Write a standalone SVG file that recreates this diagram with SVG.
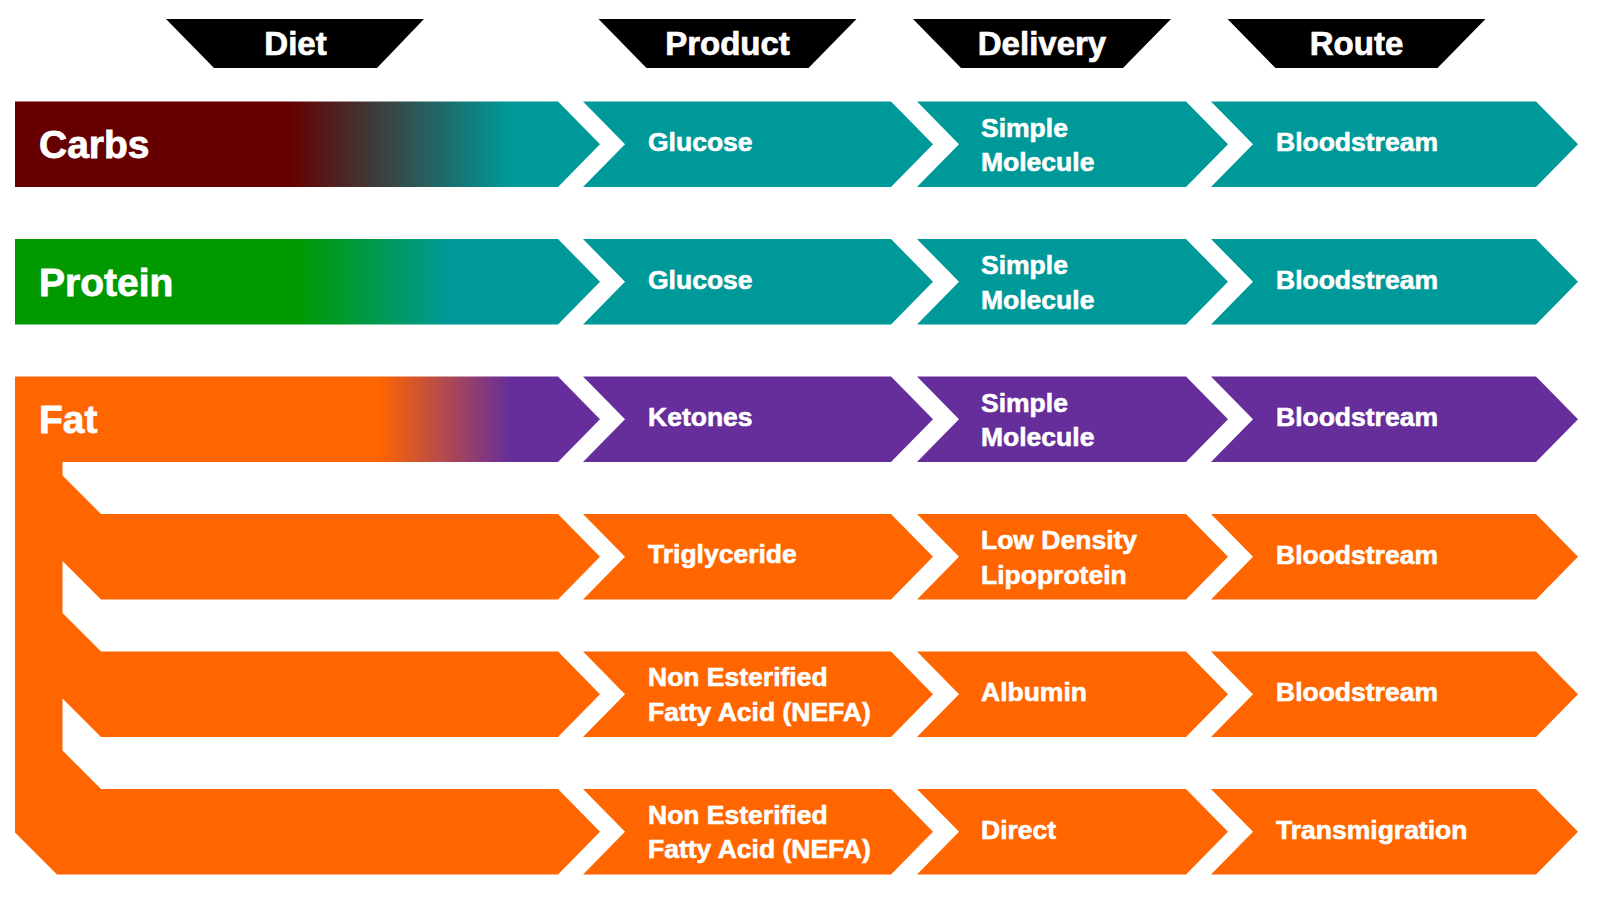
<svg xmlns="http://www.w3.org/2000/svg" width="1600" height="900" viewBox="0 0 1600 900">
<defs>
<linearGradient id="gCarbs" gradientUnits="userSpaceOnUse" x1="290" y1="0" x2="510" y2="0">
<stop offset="0" stop-color="#660000"/><stop offset="1" stop-color="#009999"/>
</linearGradient>
<linearGradient id="gProtein" gradientUnits="userSpaceOnUse" x1="296" y1="0" x2="450" y2="0">
<stop offset="0" stop-color="#009900"/><stop offset="1" stop-color="#009999"/>
</linearGradient>
<linearGradient id="gFat" gradientUnits="userSpaceOnUse" x1="378" y1="0" x2="510" y2="0">
<stop offset="0" stop-color="#FF6600"/><stop offset="1" stop-color="#662E9B"/>
</linearGradient>
<style>
.hdr-shape{fill:#000000}
.hdr{font-family:"Liberation Sans",Arial,sans-serif;font-weight:bold;font-size:33px;fill:#ffffff;stroke:#ffffff;stroke-width:0.7px;text-anchor:middle}
.big{font-family:"Liberation Sans",Arial,sans-serif;font-weight:bold;font-size:39px;fill:#ffffff;stroke:#ffffff;stroke-width:0.8px}
.lbl{font-family:"Liberation Sans",Arial,sans-serif;font-weight:bold;font-size:26.5px;fill:#ffffff;stroke:#ffffff;stroke-width:0.6px}
.teal{fill:#009999}
.purple{fill:#662E9B}
.orange{fill:#FF6600}
</style>
</defs>
<rect x="0" y="0" width="1600" height="900" fill="#ffffff"/>

<!-- Headers -->
<g id="hdr-diet"><polygon class="hdr-shape" points="166,19 424,19 377,68 214,68"/><text class="hdr" x="295.5" y="55">Diet</text></g>
<g id="hdr-product"><polygon class="hdr-shape" points="598.5,19 856.5,19 808.5,68 646.5,68"/><text class="hdr" x="727.5" y="55">Product</text></g>
<g id="hdr-delivery"><polygon class="hdr-shape" points="913,19 1171,19 1123,68 961,68"/><text class="hdr" x="1042" y="55">Delivery</text></g>
<g id="hdr-route"><polygon class="hdr-shape" points="1227.5,19 1485.5,19 1437.5,68 1275.5,68"/><text class="hdr" x="1356.5" y="55">Route</text></g>

<!-- Fat branches (spine + arms) -->
<g id="connectors">
<polygon id="fat-branches" class="orange" points="15,461 62.5,461 62.5,475.5 101,514 558,514 600,556.75 558,599.5 101,599.5 62.5,561 62.5,613 101,651.5 558,651.5 600,694.25 558,737 101,737 62.5,698.5 62.5,750.5 101,789 558,789 600,831.75 558,874.5 57,874.5 15,832.5"/>
</g>

<!-- Row 0: Carbs -->
<g id="carbs"><path fill="url(#gCarbs)" d="M15,101.5 L558,101.5 L600,144.25 L558,187 L15,187 Z"/><text class="big" x="39" y="158">Carbs</text></g>
<g id="carbs-product"><path class="teal" d="M583,101.5 L891,101.5 L933,144.25 L891,187 L583,187 L625,144.25 Z"/><text class="lbl" x="648" y="151">Glucose</text></g>
<g id="carbs-delivery"><path class="teal" d="M917,101.5 L1186,101.5 L1228,144.25 L1186,187 L917,187 L959,144.25 Z"/><text class="lbl" x="981" y="136.5">Simple</text><text class="lbl" x="981" y="171">Molecule</text></g>
<g id="carbs-route"><path class="teal" d="M1211,101.5 L1536,101.5 L1578,144.25 L1536,187 L1211,187 L1253,144.25 Z"/><text class="lbl" x="1276" y="151">Bloodstream</text></g>

<!-- Row 1: Protein -->
<g id="protein"><path fill="url(#gProtein)" d="M15,239 L558,239 L600,281.75 L558,324.5 L15,324.5 Z"/><text class="big" x="39" y="296">Protein</text></g>
<g id="protein-product"><path class="teal" d="M583,239 L891,239 L933,281.75 L891,324.5 L583,324.5 L625,281.75 Z"/><text class="lbl" x="648" y="288.5">Glucose</text></g>
<g id="protein-delivery"><path class="teal" d="M917,239 L1186,239 L1228,281.75 L1186,324.5 L917,324.5 L959,281.75 Z"/><text class="lbl" x="981" y="274">Simple</text><text class="lbl" x="981" y="308.5">Molecule</text></g>
<g id="protein-route"><path class="teal" d="M1211,239 L1536,239 L1578,281.75 L1536,324.5 L1211,324.5 L1253,281.75 Z"/><text class="lbl" x="1276" y="288.5">Bloodstream</text></g>

<!-- Row 2: Fat -->
<g id="fat"><path fill="url(#gFat)" d="M15,376.5 L558,376.5 L600,419.25 L558,462 L15,462 Z"/><text class="big" x="39" y="433">Fat</text></g>
<g id="fat-product"><path class="purple" d="M583,376.5 L891,376.5 L933,419.25 L891,462 L583,462 L625,419.25 Z"/><text class="lbl" x="648" y="426">Ketones</text></g>
<g id="fat-delivery"><path class="purple" d="M917,376.5 L1186,376.5 L1228,419.25 L1186,462 L917,462 L959,419.25 Z"/><text class="lbl" x="981" y="411.5">Simple</text><text class="lbl" x="981" y="446">Molecule</text></g>
<g id="fat-route"><path class="purple" d="M1211,376.5 L1536,376.5 L1578,419.25 L1536,462 L1211,462 L1253,419.25 Z"/><text class="lbl" x="1276" y="426">Bloodstream</text></g>

<!-- Row 3: Triglyceride -->
<g id="tg-product"><path class="orange" d="M583,514 L891,514 L933,556.75 L891,599.5 L583,599.5 L625,556.75 Z"/><text class="lbl" x="648" y="562.5">Triglyceride</text></g>
<g id="tg-delivery"><path class="orange" d="M917,514 L1186,514 L1228,556.75 L1186,599.5 L917,599.5 L959,556.75 Z"/><text class="lbl" x="981" y="549">Low Density</text><text class="lbl" x="981" y="583.5">Lipoprotein</text></g>
<g id="tg-route"><path class="orange" d="M1211,514 L1536,514 L1578,556.75 L1536,599.5 L1211,599.5 L1253,556.75 Z"/><text class="lbl" x="1276" y="564">Bloodstream</text></g>

<!-- Row 4: NEFA / Albumin -->
<g id="nefa1-product"><path class="orange" d="M583,651.5 L891,651.5 L933,694.25 L891,737 L583,737 L625,694.25 Z"/><text class="lbl" x="648" y="686">Non Esterified</text><text class="lbl" x="648" y="720.5">Fatty Acid (NEFA)</text></g>
<g id="nefa1-delivery"><path class="orange" d="M917,651.5 L1186,651.5 L1228,694.25 L1186,737 L917,737 L959,694.25 Z"/><text class="lbl" x="981" y="701">Albumin</text></g>
<g id="nefa1-route"><path class="orange" d="M1211,651.5 L1536,651.5 L1578,694.25 L1536,737 L1211,737 L1253,694.25 Z"/><text class="lbl" x="1276" y="701">Bloodstream</text></g>

<!-- Row 5: NEFA / Direct -->
<g id="nefa2-product"><path class="orange" d="M583,789 L891,789 L933,831.75 L891,874.5 L583,874.5 L625,831.75 Z"/><text class="lbl" x="648" y="823.5">Non Esterified</text><text class="lbl" x="648" y="858">Fatty Acid (NEFA)</text></g>
<g id="nefa2-delivery"><path class="orange" d="M917,789 L1186,789 L1228,831.75 L1186,874.5 L917,874.5 L959,831.75 Z"/><text class="lbl" x="981" y="838.5">Direct</text></g>
<g id="nefa2-route"><path class="orange" d="M1211,789 L1536,789 L1578,831.75 L1536,874.5 L1211,874.5 L1253,831.75 Z"/><text class="lbl" x="1276" y="838.5">Transmigration</text></g>
</svg>
